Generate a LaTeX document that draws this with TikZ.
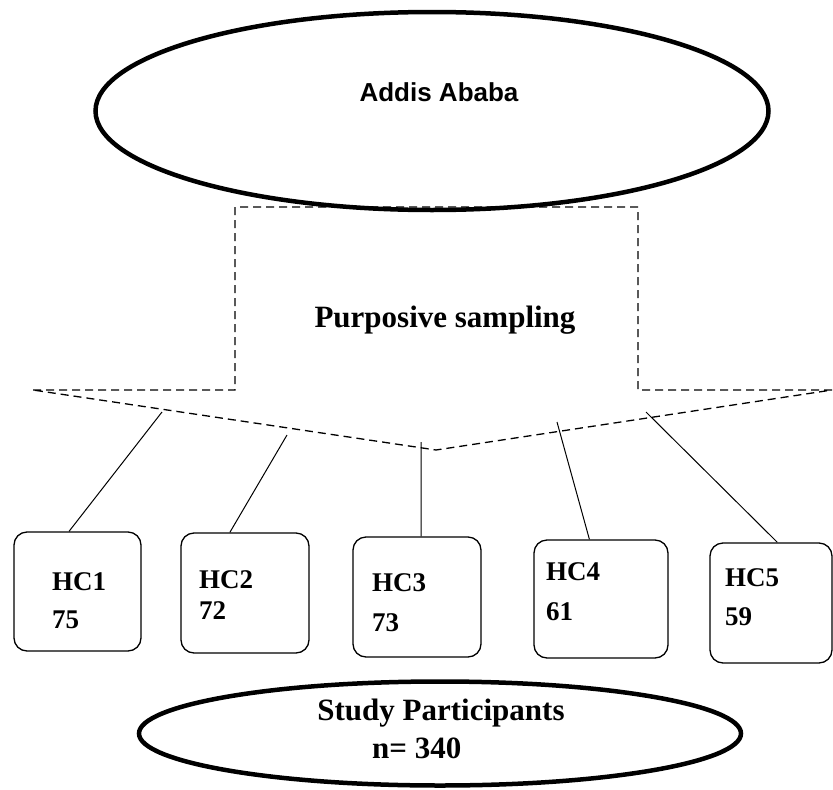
\documentclass[tikz,border=0pt]{standalone}
\usepackage{fontspec}
\setmainfont{Liberation Serif}
\newfontfamily\arialfont{Liberation Sans}
\usetikzlibrary{shapes.geometric}
\usetikzlibrary{positioning}
\tikzstyle{bigellipse}=[ellipse,draw,line width=4.5pt,inner sep=0pt]
\tikzstyle{hcbox}=[rectangle,draw,line width=1.3pt,rounded corners=13pt,inner sep=0pt]
\tikzstyle{hclabel}=[anchor=west,inner sep=0pt,font=\fontsize{27}{30}\selectfont\bfseries]
\tikzstyle{bigtext}=[inner sep=0pt,font=\fontsize{31}{34}\selectfont\bfseries]
\tikzstyle{citytext}=[inner sep=0pt,font=\fontsize{26}{30}\selectfont\arialfont\bfseries]
\tikzstyle{arrowoutline}=[draw,line width=1.3pt,dash pattern=on 8pt off 5pt]
\tikzstyle{link}=[draw,line width=1pt]

\begin{document}
\begin{tikzpicture}[x=1pt,y=-1pt]
    \useasboundingbox (0,0) rectangle (833,790);
    % The city on top
    \node[bigellipse,minimum width=673pt,minimum height=198pt] (city) at (432,111) {};
    \node[citytext] (citylabel) at (439,92) {Addis Ababa};

    % The dashed arrow for the sampling
    \path[arrowoutline] (33,390) -- (235,390) -- (235,207) -- (638,207) -- (638,390)
        -- (832,390) -- (436,450) -- cycle;
    \node[bigtext] (sampling) at (445,320) {Purposive sampling};

    % Health centres
    \foreach \pos/\name/\w/\h in {{(77.5,591.5)/hc1/127/119}, {(245,593)/hc2/128/120}, {(417,597)/hc3/128/120},
        {(601,599)/hc4/134/118}, {(771,603)/hc5/122/120}}
        \node[hcbox,minimum width=\w pt,minimum height=\h pt] (\name) at \pos {};
    \foreach \x/\ya/\yb/\txt/\num in {52/582/620/HC1/75, 199/580/611/HC2/72, 372/583/623/HC3/73,
        546/572/612/HC4/61, 725/578/617/HC5/59}
    {
        \node[hclabel] at (\x,\ya) {\txt};
        \node[hclabel] at (\x,\yb) {\num};
    }

    % Lines from the arrow to the boxes
    \coordinate (s1) at (162,412);
    \coordinate (s2) at (287,435);
    \coordinate (s3) at (421,442);
    \coordinate (s4) at (557,422);
    \coordinate (s5) at (646,412);
    \foreach \i/\ang in {1/98, 2/104, 3/86, 4/101, 5/84}
        \path[link] (s\i) -- (hc\i.\ang);

    % Study participants
    \node[bigellipse,minimum width=602pt,minimum height=104pt] (study) at (440,733.5) {};
    \node[bigtext] (studylabel) at (441,713) {Study Participants};
    \node[bigtext,anchor=west] (total) at (372,748) {n= 340};
\end{tikzpicture}
\end{document}
